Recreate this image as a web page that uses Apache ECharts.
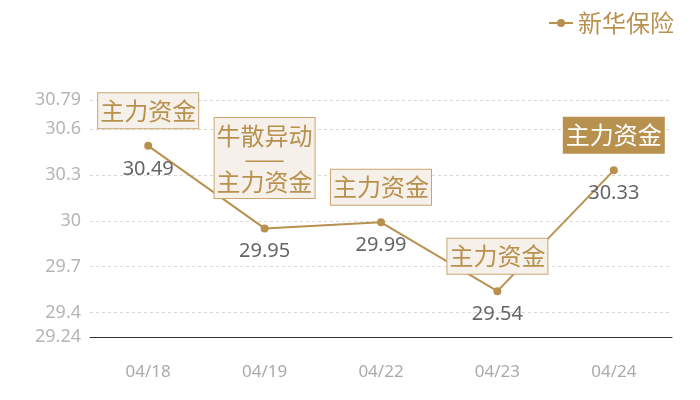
<!DOCTYPE html>
<html>
<head>
<meta charset="utf-8">
<script src="https://cdn.jsdelivr.net/npm/echarts@6/dist/echarts.min.js"></script>
<style>
  html, body { margin: 0; padding: 0; background: #fff; }
  #main { width: 700px; height: 400px; }
</style>
</head>
<body>
<div id="main"></div>
<script>
var dates = ['04/18', '04/19', '04/22', '04/23', '04/24'];
var prices = [30.49, 29.95, 29.99, 29.54, 30.33];
var notes = ['主力资金', '牛散异动\n——\n主力资金', '主力资金', '主力资金', '主力资金'];
var yTicks = [29.24, 29.4, 29.7, 30, 30.3, 30.6, 30.79];

var gold = '#b8914f';
var font = 'Noto Sans, Noto Sans CJK SC, sans-serif';
var cjk = 'Noto Sans CJK SC, sans-serif';

var myChart = echarts.init(document.getElementById('main'));

// 注释框，最后一个实心
var marks = dates.map(function (d, i) {
  var last = i === dates.length - 1;
  var multi = i === 1;
  return {
    coord: [d, prices[i]],
    label: {
      formatter: notes[i],
      distance: multi ? 30 : 17,
      lineHeight: multi ? 23 : 29,
      padding: multi ? [6, 2, 5, 2] : [3, 2, 3, 2],
      color: last ? '#fff' : gold,
      backgroundColor: last ? gold : '#f5f0e9',
      borderColor: last ? gold : '#c9a66f',
      borderWidth: 1
    }
  };
});

var option = {
  animation: false,
  legend: {
    right: 21,
    top: 6,
    itemWidth: 24,
    itemHeight: 10,
    itemGap: 6,
    textStyle: { color: gold, fontSize: 24, fontFamily: cjk },
    data: ['新华保险']
  },
  grid: { left: 90, right: 28, top: 100, bottom: 63 },
  xAxis: {
    type: 'category',
    data: dates,
    axisTick: { show: false },
    axisLine: { lineStyle: { color: '#333' } },
    axisLabel: { color: '#aaa', fontSize: 17, margin: 27, fontFamily: font }
  },
  yAxis: {
    type: 'value',
    min: 29.24,
    max: 30.79,
    axisLine: { show: false },
    axisTick: { show: false, customValues: yTicks },
    axisLabel: { color: '#b5b5b5', fontSize: 18, margin: 9, fontFamily: font, customValues: yTicks },
    splitLine: { lineStyle: { color: '#d8d8d8', type: [3, 3] } }
  },
  series: [{
    name: '新华保险',
    type: 'line',
    data: prices,
    symbol: 'circle',
    symbolSize: 8,
    itemStyle: { color: gold },
    lineStyle: { color: gold, width: 2 },
    label: {
      show: true,
      position: 'bottom',
      distance: 9,
      color: '#666',
      fontSize: 20,
      fontFamily: font
    },
    markPoint: {
      symbol: 'circle',
      symbolSize: 1,
      itemStyle: { color: 'rgba(0,0,0,0)' },
      label: {
        show: true,
        position: 'top',
        fontSize: 24,
        fontFamily: cjk
      },
      data: marks
    }
  }]
};
myChart.setOption(option);
</script>
</body>
</html>
